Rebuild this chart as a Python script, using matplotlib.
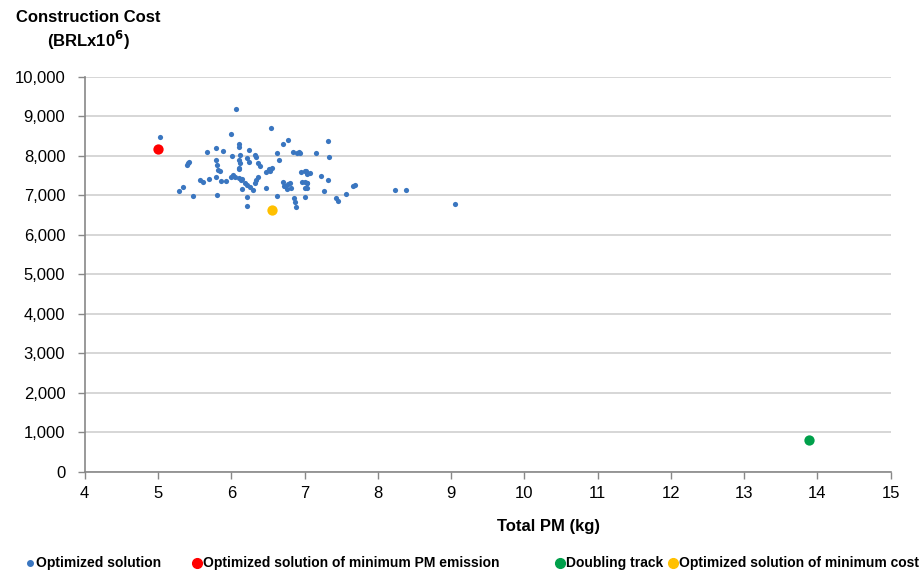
import matplotlib
matplotlib.use("Agg")
import matplotlib.pyplot as plt
from matplotlib.lines import Line2D

plt.rcParams['font.family'] = ['Liberation Sans', 'DejaVu Sans']

# optimized solutions (Total PM kg, cost BRL x10^6)
opt_pm = [6.07, 5.03, 5.99, 6.54, 6.78, 6.70, 6.11, 6.11, 5.67, 5.79,
          5.89, 6.24, 6.01, 6.12, 6.32, 6.34, 6.22, 6.24, 6.63, 6.84,
          6.90, 6.94, 6.11, 5.42, 5.41, 5.39, 5.79, 5.80, 5.82, 5.85,
          6.12, 6.10, 6.10, 6.37, 6.39, 6.52, 6.56, 6.53, 6.48, 6.65,
          6.95, 7.01, 7.07, 6.03, 6.00, 6.05, 6.10, 6.13, 6.14, 5.79,
          5.58, 5.61, 5.69, 5.86, 5.93, 6.19, 6.22, 6.26, 6.30, 6.37,
          6.34, 6.33, 6.15, 6.48, 6.70, 6.74, 6.78, 6.82, 6.76, 6.80,
          6.72, 6.96, 7.01, 7.04, 5.28, 5.34, 5.48, 5.81, 6.22, 6.22,
          6.62, 6.86, 6.87, 6.89, 7.01, 7.32, 7.16, 7.34, 7.22, 7.32,
          7.02, 7.03, 7.04, 7.00, 7.03, 7.26, 7.43, 7.46, 7.57, 7.66,
          7.69, 8.24, 8.38, 9.06, 6.93]
opt_cost = [9180, 8490, 8550, 8700, 8410, 8300, 8300, 8235, 8100, 8210,
            8135, 8145, 8010, 8035, 8020, 7980, 7940, 7850, 8070, 8110,
            8070, 8085, 7890, 7850, 7815, 7765, 7900, 7765, 7645, 7610,
            7815, 7705, 7680, 7815, 7745, 7665, 7705, 7620, 7595, 7900,
            7585, 7620, 7580, 7525, 7475, 7475, 7450, 7390, 7420, 7475,
            7385, 7335, 7420, 7365, 7365, 7325, 7260, 7215, 7130, 7460,
            7385, 7310, 7155, 7200, 7330, 7240, 7300, 7200, 7170, 7320,
            7250, 7335, 7190, 7325, 7105, 7205, 6985, 7015, 6970, 6735,
            6995, 6930, 6845, 6715, 6955, 8380, 8070, 7965, 7500, 7385,
            7620, 7535, 7325, 7340, 7180, 7115, 6945, 6860, 7030, 7240,
            7275, 7140, 7140, 6795, 8095]

min_pm_x, min_pm_y = [5.0], [8180]
doubling_x, doubling_y = [13.88], [810]
min_cost_x, min_cost_y = [6.55], [6635]

legend_labels = ['Optimized solution', 'Optimized solution of minimum PM emission',
                 'Doubling track', 'Optimized solution of minimum cost']
colors = ['#3a76c0', '#ff0000', '#00a04b', '#ffc000']

fig = plt.figure(figsize=(9.21, 5.70), dpi=100)
ax = fig.add_axes([0.092, 0.172, 0.875, 0.693])

ax.scatter(opt_pm, opt_cost, s=14, color=colors[0], zorder=3, linewidths=0)
ax.scatter(min_pm_x, min_pm_y, s=55, color=colors[1], zorder=4, linewidths=0)
ax.scatter(doubling_x, doubling_y, s=55, color=colors[2], zorder=4, linewidths=0)
ax.scatter(min_cost_x, min_cost_y, s=55, color=colors[3], zorder=4, linewidths=0)

ax.set_xlim(4, 15)
ax.set_ylim(0, 10000)
ax.set_xticks(range(4, 16))
ax.set_yticks(range(0, 10001, 1000))
ax.set_yticklabels([f'{v:,}' for v in range(0, 10001, 1000)])
ax.tick_params(axis='both', labelsize=12, direction='out', length=5,
               color='#888888', width=1)
ax.tick_params(axis='y', pad=9)
ax.tick_params(axis='x', pad=5)
ax.grid(axis='y', color='#d0d0d0', linewidth=1.2)
ax.set_axisbelow(True)
for side in ['top', 'right']:
    ax.spines[side].set_visible(False)
for side in ['left', 'bottom']:
    ax.spines[side].set_color('#888888')
    ax.spines[side].set_linewidth(1.2)

fig.text(88 / 921, 1 - 18 / 570, 'Construction Cost', ha='center', va='center',
         fontsize=12, fontweight='bold')
fig.text(88 / 921, 1 - 40 / 570, '(BRLx10$^{\\mathbf{6}}$)', ha='center', va='center',
         fontsize=12, fontweight='bold')
fig.text(548 / 921, 1 - 527 / 570, 'Total PM (kg)', ha='center', va='center',
         fontsize=12, fontweight='bold')

# legend items placed along the bottom
leg_x = [30, 197, 560, 673]
leg_size = [4, 7, 7, 7]
for lx, lab, c, ms in zip(leg_x, legend_labels, colors, leg_size):
    fig.add_artist(Line2D([lx / 921], [1 - 563 / 570], marker='o', color=c,
                          markersize=ms, linestyle='none', transform=fig.transFigure))
    fig.text((lx + 6) / 921, 1 - 563 / 570, lab, ha='left', va='center',
             fontsize=10, fontweight='bold')

fig.savefig('out.png', dpi=100)
